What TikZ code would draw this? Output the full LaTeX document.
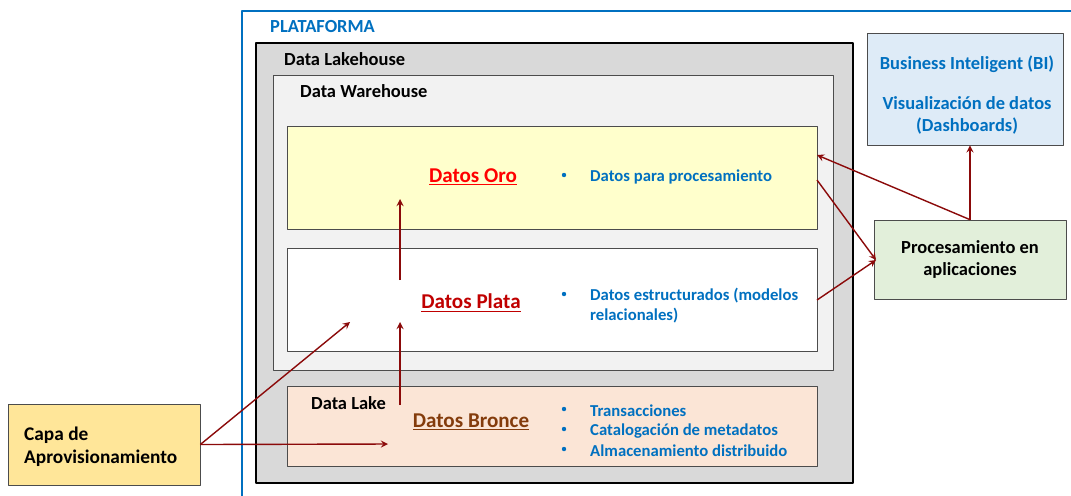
\documentclass[tikz,border=0pt]{standalone}
\usepackage{fontspec}
\setmainfont{Carlito}
\usetikzlibrary{positioning}
\definecolor{platblue}{RGB}{0,112,192}
\definecolor{txtblue}{RGB}{0,112,192}
\definecolor{flecha}{RGB}{139,10,10}
\definecolor{lakehouse}{RGB}{217,217,217}
\definecolor{warehouse}{RGB}{242,242,242}
\definecolor{oro}{RGB}{255,255,204}
\definecolor{bronce}{RGB}{251,229,214}
\definecolor{capa}{RGB}{255,230,153}
\definecolor{bi}{RGB}{222,235,247}
\definecolor{proc}{RGB}{226,239,218}
\definecolor{broncetxt}{RGB}{132,60,12}
\definecolor{platatxt}{RGB}{192,0,0}
\tikzset{
  capa/.style={draw=black!70,minimum width=3.84cm,minimum height=1.62cm},
  etiq/.style={anchor=west,font=\bfseries\fontsize{10.5}{12}\selectfont},
  datos/.style={font=\bfseries\fontsize{12}{14}\selectfont},
  punto/.style={anchor=west,text=txtblue,font=\bfseries\fontsize{9.5}{12}\selectfont},
  flec/.style={->,draw=flecha,line width=.8pt}
}
\begin{document}
\begin{tikzpicture}[>=stealth,line join=round,x=0.02cm,y=-0.02cm,font=\bfseries]
	\useasboundingbox (0,0) rectangle (1071,495);
	% plataforma
	\draw[platblue,line width=1.6pt] (242,505)--(242,11)--(1085,11);
	\node[anchor=west,text=platblue,font=\bfseries\fontsize{10.5}{12}\selectfont] (plat) at (264,27) {PLATAFORMA};
	% lakehouse y warehouse
	\draw[fill=lakehouse,line width=1.5pt] (256,43) rectangle (853,483);
	\node[etiq] (lh) at (278,59) {Data Lakehouse};
	\draw[fill=warehouse,draw=black!70] (273,75) rectangle (833,370);
	\node[etiq] (dw) at (294,91) {Data Warehouse};
	% capas de datos
	\node[capa,fill=oro,minimum width=10.6cm,minimum height=2.06cm] (oro) at (552,177.5) {};
	\node[capa,fill=white,minimum width=10.6cm,minimum height=2.06cm] (plata) at (552,299.5) {};
	\node[capa,fill=bronce,minimum width=10.6cm,minimum height=1.6cm] (bronce) at (552,426) {};
	\node[datos,text=red] (tOro) at (473,177) {\underline{Datos Oro}};
	\node[datos,text=platatxt] (tPlata) at (471,303) {\underline{Datos Plata}};
	\node[datos,text=broncetxt] (tBronce) at (471,422) {\underline{Datos Bronce}};
	\node[etiq] (dl) at (305,403) {Data Lake};
	% viñetas
	\foreach \y/\t in {177/Datos para procesamiento,296/Datos estructurados (modelos,411/Transacciones,431/Catalogación de metadatos,451/Almacenamiento distribuido}
		\node[punto] at (584,\y) {\t};
	\node[punto] at (584,316) {relacionales)};
	\foreach \y in {175,294,409,429,449}
		\fill[txtblue] (564,\y) circle (2.2);
	% cajas externas
	\node[capa,fill=capa] (aprov) at (104,444.5) {};
	\node[anchor=west,align=left,font=\bfseries\fontsize{11}{13}\selectfont] (tAprov) at (18,447) {Capa de\\Aprovisionamiento};
	\node[capa,fill=bi,minimum width=3.92cm,minimum height=2.24cm] (bi) at (965,89) {};
	\node[text=txtblue,align=center,font=\bfseries\fontsize{10.5}{12.5}\selectfont] (tBi) at (967,95) {Business Inteligent (BI)\\[10pt]Visualización de datos\\(Dashboards)};
	\node[capa,fill=proc,minimum width=3.84cm,minimum height=1.58cm,align=center,font=\bfseries\fontsize{10.5}{12.5}\selectfont] (proc) at (970,259.5) {Procesamiento en\\aplicaciones};
	% flechas
	\coordinate (bIn) at (388,444);
	\coordinate (pIn) at (350,322);
	\coordinate (bOut) at (400,405);
	\coordinate (pUp) at (400,322);
	\coordinate (pOut) at (400,280);
	\coordinate (oUp) at (400,199);
	\coordinate (oOut) at (817,180);
	\coordinate (oIn) at (817,155);
	\coordinate (plOut) at (817,300);
	\coordinate (procIn) at (876,260);
	\draw[flec] (aprov.east) -- (bIn);
	\draw[flec] (aprov.east) -- (pIn);
	\draw[flec] (bOut) -- (pUp);
	\draw[flec] (pOut) -- (oUp);
	\draw[flec] (oOut) -- (procIn);
	\draw[flec] (plOut) -- (procIn);
	\draw[flec] (proc.north) -- (oIn);
	\draw[flec] (proc.north) -- (proc.north |- bi.south);
\end{tikzpicture}
\end{document}
